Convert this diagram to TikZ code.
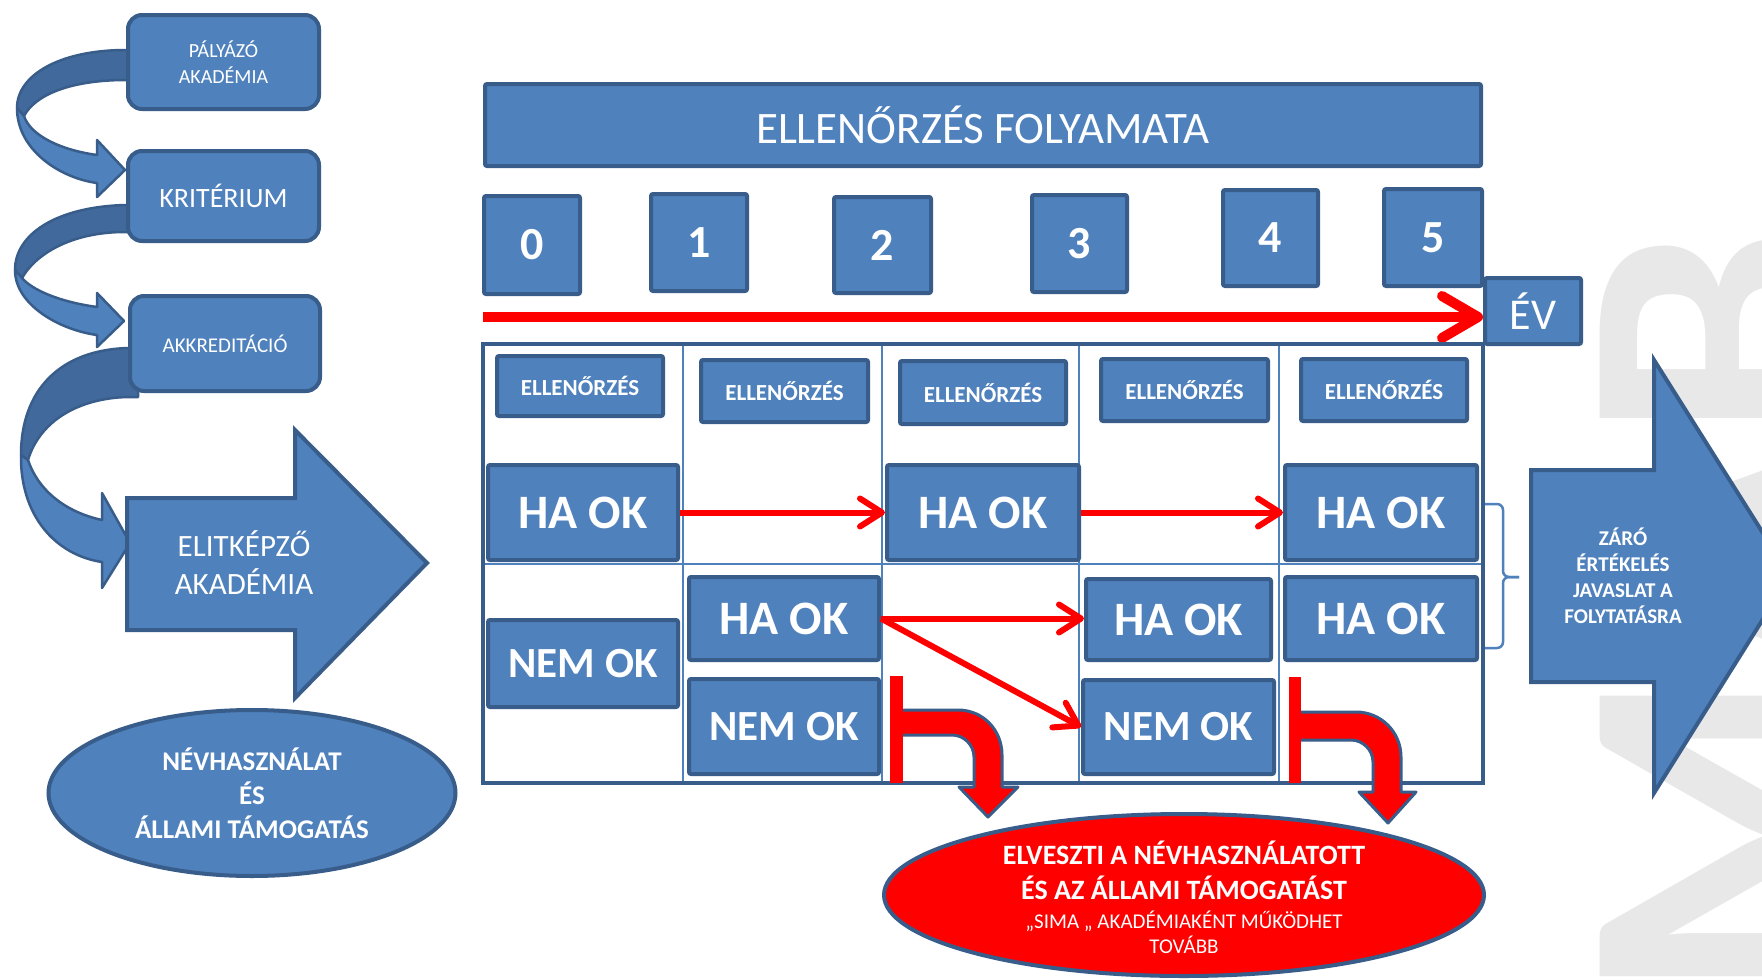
\documentclass[tikz,border=0pt]{standalone}
\usepackage{fontspec}
\setmainfont{Carlito}
\usetikzlibrary{shapes.geometric,arrows.meta}
\definecolor{bfill}{HTML}{4F81BD}
\definecolor{bline}{HTML}{385D8A}
\definecolor{bdark}{HTML}{41699B}
\definecolor{wmark}{HTML}{E8E8E8}
\definecolor{rr}{HTML}{FF0000}
\newcommand\fsz[2]{\fontsize{#1}{#2}\selectfont}
\begin{document}
\begin{tikzpicture}[x=1pt,y=-1pt,
  wh/.style 2 args={minimum width=#1pt,minimum height=#2pt},
  box/.style={draw=bline,fill=bfill,line width=4pt,text=white,inner sep=0pt,align=center},
  rbox/.style={box,rounded corners=14pt},
  sbox/.style={box,rounded corners=2pt},
  haok/.style={sbox,font=\fsz{48}{52}\bfseries},
  nemok/.style={sbox,font=\fsz{43}{48}\bfseries},
  shp/.style={draw=bline,fill=bfill,line width=4pt,line join=miter},
  curv/.style={draw=bline,line width=2.5pt,line join=round},
  grid/.style={draw=bfill,line width=2.5pt},
  wtext/.style={text=white,align=center,inner sep=0pt},
  tline/.style={draw=rr,line width=10pt,-{Straight Barb[length=36pt,width=42pt,round]}},
  arr/.style={draw=rr,line width=6pt,-{Straight Barb[length=22pt,width=28pt,round]}},
  bent/.style={fill=rr,draw=bline,line width=3pt,line join=round}
]
\useasboundingbox (0,0) rectangle (1762,980);
\clip (0,0) rectangle (1762,980);
\fill[white] (0,0) rectangle (1762,980);

% watermark
\node[text=wmark,rotate=90,anchor=north,inner sep=0pt,font=\fsz{380}{380}\bfseries] (wm) at (1600,615) {MAB};

% curved arrows (left column)
\filldraw[curv,fill=bdark] (135,50) -- (126,50) .. controls (60,50) and (17,75) .. (17,108) -- (24,116) .. controls (35,95) and (70,80) .. (126,80) -- (135,80) -- cycle;
\filldraw[curv,fill=bfill] (17,108) .. controls (17,150) and (60,178) .. (97,183) -- (97,197) -- (125,170) -- (97,140) -- (97,155) .. controls (60,150) and (30,135) .. (24,116) -- cycle;

\filldraw[curv,fill=bdark] (135,205) -- (125,205) .. controls (55,207) and (15,235) .. (15,270) -- (22,278) .. controls (35,255) and (70,232) .. (125,232) -- (135,232) -- cycle;
\filldraw[curv,fill=bfill] (15,270) .. controls (15,305) and (60,330) .. (97,335) -- (97,347) -- (124,321) -- (97,293) -- (97,307) .. controls (60,302) and (32,290) .. (22,278) -- cycle;

\filldraw[curv,fill=bdark] (138,348) -- (128,348) .. controls (60,350) and (21,390) .. (21,455) -- (28,460) .. controls (40,420) and (80,398) .. (128,397) -- (138,397) -- cycle;
\filldraw[curv,fill=bfill] (21,455) .. controls (20,515) and (55,555) .. (102,562) -- (102,588) -- (130,543) -- (102,493) -- (102,520) .. controls (65,512) and (38,490) .. (28,460) -- cycle;

% left boxes
\node[rbox,wh={191}{94},font=\fsz{20}{26}] (pal) at (223.5,62) {PÁLYÁZÓ\\AKADÉMIA};
\node[rbox,wh={191}{90},font=\fsz{28}{34}] (krit) at (223.5,196) {KRITÉRIUM};
\node[rbox,wh={190}{95},font=\fsz{21}{26}] (akk) at (225,343.5) {AKKREDITÁCIÓ};

% elitkepzo arrow
\filldraw[shp] (127,498) -- (295,498) -- (295,430) -- (427,563) -- (295,698) -- (295,630) -- (127,630) -- cycle;
\node[wtext,font=\fsz{31}{38}] (elit) at (244,563) {ELITKÉPZŐ\\AKADÉMIA};

% ellipse
\node[ellipse,draw=bline,fill=bfill,line width=4pt,wh={407}{166},inner sep=0pt,text=white,align=center,font=\fsz{27}{34}\bfseries] (nev) at (252,793) {NÉVHASZNÁLAT\\ÉS\\ÁLLAMI TÁMOGATÁS};

% header and years
\node[sbox,wh={996}{82},font=\fsz{45}{50}] (head) at (983,125) {ELLENŐRZÉS FOLYAMATA};
\node[sbox,wh={96}{98},font=\fsz{46}{50}\bfseries] (y0) at (532,245) {0};
\node[sbox,wh={96}{97},font=\fsz{46}{50}\bfseries] (y1) at (699,242.5) {1};
\node[sbox,wh={97}{96},font=\fsz{46}{50}\bfseries] (y2) at (882.5,245) {2};
\node[sbox,wh={95}{97},font=\fsz{46}{50}\bfseries] (y3) at (1079.5,243.5) {3};
\node[sbox,wh={95}{96},font=\fsz{46}{50}\bfseries] (y4) at (1270.5,238) {4};
\node[sbox,wh={98}{97},font=\fsz{46}{50}\bfseries] (y5) at (1433,237.5) {5};
\node[sbox,wh={96}{66},font=\fsz{44}{50}] (ev) at (1533,311) {ÉV};

\coordinate (t0) at (483,317);
\draw[tline] (t0) -- (ev.west |- t0);

% table
\node[draw=bline,line width=4pt,wh={1000}{439},inner sep=0pt] (tab) at (983,563.5) {};
\foreach \x in {683,882,1079,1279} \draw[grid] (\x,346) -- (\x,781);
\draw[grid] (485,564) -- (1481,564);

\node[sbox,wh={166}{60},font=\fsz{23}{26}\bfseries] (e0) at (580,386) {ELLENŐRZÉS};
\node[sbox,wh={167}{62},font=\fsz{23}{26}\bfseries] (e1) at (784.5,391) {ELLENŐRZÉS};
\node[sbox,wh={166}{63},font=\fsz{23}{26}\bfseries] (e2) at (983,392.5) {ELLENŐRZÉS};
\node[sbox,wh={167}{62},font=\fsz{23}{26}\bfseries] (e3) at (1184.5,390) {ELLENŐRZÉS};
\node[sbox,wh={166}{62},font=\fsz{23}{26}\bfseries] (e4) at (1384,390) {ELLENŐRZÉS};

\node[haok,wh={190}{95}] (h0) at (583,512.5) {HA OK};
\node[haok,wh={192}{95}] (h2) at (983,512.5) {HA OK};
\node[haok,wh={192}{95}] (h4) at (1381,512.5) {HA OK};
\node[nemok,wh={190}{87}] (n0) at (583,663.5) {NEM OK};
\node[haok,wh={190}{83}] (h1) at (784,618.5) {HA OK};
\node[nemok,wh={190}{95}] (n1) at (784,726.5) {NEM OK};
\node[haok,wh={185}{81}] (h3) at (1178.5,619.5) {HA OK};
\node[nemok,wh={191}{94}] (n3) at (1178.5,727) {NEM OK};
\node[haok,wh={192}{83}] (h4b) at (1381,618.5) {HA OK};

% red arrows in table
\draw[arr] (h0.east) -- (h2.west);
\draw[arr] (h2.east) -- (h4.west);
\draw[arr] (h1.east) -- (h3.west |- h1.east);
\draw[arr] (h1.east) -- (n3.west);

% bent arrows
\filldraw[bent] (897,710) -- (958,710) .. controls (983,710) and (1002,730) .. (1002,755) -- (1002,787) -- (1018,787) -- (988,817) -- (959,787) -- (974,787) -- (974,757) .. controls (974,745) and (964,735) .. (952,735) -- (897,735) -- cycle;
\fill[rr] (890,676) rectangle (903,783);
\filldraw[bent] (1295,712) -- (1356,712) .. controls (1381,712) and (1401,732) .. (1401,757) -- (1401,792) -- (1416,792) -- (1388,823) -- (1359,792) -- (1373,792) -- (1373,762) .. controls (1373,750) and (1363,740) .. (1351,740) -- (1295,740) -- cycle;
\fill[rr] (1289,677) rectangle (1301,783);

% brace
\draw[grid,rounded corners=6pt] (1485,504) -- (1503,504) -- (1503,577) -- (1519,577);
\draw[grid,rounded corners=6pt] (1519,577) -- (1503,577) -- (1503,648) -- (1485,648);

% zaro arrow
\filldraw[shp] (1531,470) -- (1654,470) -- (1654,360) -- (1790,576) -- (1654,793) -- (1654,682) -- (1531,682) -- cycle;
\node[wtext,font=\fsz{21}{26}\bfseries] (zaro) at (1623,576) {ZÁRÓ\\ÉRTÉKELÉS\\JAVASLAT A\\FOLYTATÁSRA};

% red ellipse
\node[ellipse,draw=bline,fill=rr,line width=4pt,wh={600}{162},inner sep=0pt] (lose) at (1184,895) {};
\node[wtext,font=\fsz{28}{35}\bfseries] (loseA) at (1184,870) {ELVESZTI A NÉVHASZNÁLATOTT\\ÉS AZ ÁLLAMI TÁMOGATÁST};
\node[wtext,font=\fsz{21}{25}] (loseB) at (1184,932) {„SIMA „ AKADÉMIAKÉNT MŰKÖDHET\\TOVÁBB};
\end{tikzpicture}
\end{document}
